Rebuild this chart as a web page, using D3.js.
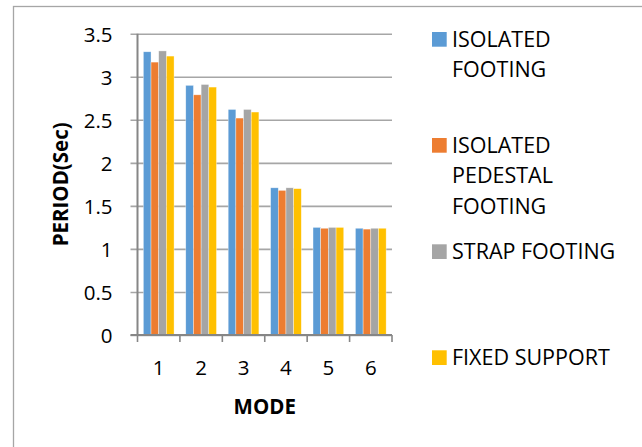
<!DOCTYPE html>
<html>
<head>
<meta charset="utf-8">
<script src="https://cdn.jsdelivr.net/npm/d3@7"></script>
<style>
  html, body { margin: 0; padding: 0; background: #fff; }
  svg { display: block; font-family: "Open Sans", "DejaVu Sans", sans-serif; }
</style>
</head>
<body>
<svg id="chart" width="642" height="447"></svg>
<script>
const modes = ["1", "2", "3", "4", "5", "6"];
const seriesNames = ["ISOLATED FOOTING", "ISOLATED PEDESTAL FOOTING", "STRAP FOOTING", "FIXED SUPPORT"];
const legendLines = [["ISOLATED", "FOOTING"], ["ISOLATED", "PEDESTAL", "FOOTING"], ["STRAP FOOTING"], ["FIXED SUPPORT"]];
const isolatedFooting   = [3.29, 2.90, 2.62, 1.71, 1.25, 1.24];
const isolatedPedestal  = [3.17, 2.79, 2.52, 1.68, 1.24, 1.23];
const strapFooting      = [3.30, 2.91, 2.62, 1.71, 1.25, 1.24];
const fixedSupport      = [3.24, 2.88, 2.59, 1.70, 1.25, 1.24];
const yTicks = [0, 0.5, 1, 1.5, 2, 2.5, 3, 3.5];
const yTickLabels = ["0", "0.5", "1", "1.5", "2", "2.5", "3", "3.5"];
const colors = ["#5B9BD5", "#ED7D31", "#A5A5A5", "#FFC000"];
const yTitle = "PERIOD(Sec)";
const xTitle = "MODE";

const seriesValues = [isolatedFooting, isolatedPedestal, strapFooting, fixedSupport];

const svg = d3.select("#chart");

// outer chart border
svg.append("rect")
  .attr("x", 13.5).attr("y", 6.5)
  .attr("width", 700).attr("height", 500)
  .attr("fill", "none").attr("stroke", "#a6a6a6").attr("stroke-width", 1.3);

const plotLeft = 137.5, plotRight = 392, plotTop = 33.7, plotBottom = 335;

const x = d3.scaleBand().domain(modes).range([plotLeft, plotRight])
  .paddingInner(0.276).paddingOuter(0.138);
const xs = d3.scaleBand().domain(d3.range(seriesNames.length)).range([0, x.bandwidth()]);
const y = d3.scaleLinear().domain([0, 3.5]).range([plotBottom, plotTop]);

// gridlines with left tick marks
const yAxis = d3.axisLeft(y).tickValues(yTicks)
  .tickSize(-(plotRight - plotLeft))
  .tickFormat((d, i) => yTickLabels[i]);
const gy = svg.append("g").attr("transform", `translate(${plotLeft},0)`).call(yAxis);
gy.select(".domain").remove();
gy.selectAll(".tick line").attr("stroke", "#a6a6a6").attr("stroke-width", 1.6)
  .attr("x1", -7);
gy.selectAll(".tick text").attr("x", -25).attr("dy", "0.36em")
  .attr("font-size", 20.5).attr("fill", "#000")
  .attr("font-family", "'Open Sans', sans-serif");

// bars
const groups = svg.append("g").selectAll("g").data(modes).join("g")
  .attr("transform", d => `translate(${x(d)},0)`);
groups.selectAll("rect")
  .data((m, i) => seriesValues.map((vals, s) => ({ s, v: vals[i] })))
  .join("rect")
  .attr("x", d => xs(d.s))
  .attr("width", xs.bandwidth())
  .attr("y", d => y(d.v))
  .attr("height", d => y(0) - y(d.v))
  .attr("fill", d => colors[d.s])
  .attr("stroke", "#fff").attr("stroke-opacity", 0.6).attr("stroke-width", 0.6);

// y axis line
svg.append("line").attr("x1", plotLeft).attr("x2", plotLeft)
  .attr("y1", plotTop).attr("y2", plotBottom)
  .attr("stroke", "#868686").attr("stroke-width", 2);

// x axis
const xAxis = d3.axisBottom(x).tickSize(0).tickSizeOuter(0);
const gx = svg.append("g").attr("transform", `translate(0,${plotBottom})`).call(xAxis);
gx.select(".domain").remove();
gx.selectAll(".tick text").attr("y", 0).attr("dy", 40)
  .attr("font-size", 20.5).attr("fill", "#000")
  .attr("font-family", "'Open Sans', sans-serif");
svg.append("line").attr("x1", plotLeft - 7).attr("x2", plotRight)
  .attr("y1", plotBottom).attr("y2", plotBottom)
  .attr("stroke", "#868686").attr("stroke-width", 2);
// category boundary ticks
const step = x.step();
const boundaries = d3.range(modes.length + 1).map(i => plotLeft + i * step);
svg.append("g").selectAll("line").data(boundaries).join("line")
  .attr("x1", d => d).attr("x2", d => d)
  .attr("y1", plotBottom).attr("y2", plotBottom + 7)
  .attr("stroke", "#868686").attr("stroke-width", 1.6);

// axis titles
svg.append("text")
  .attr("transform", `translate(68,${(plotTop + plotBottom) / 2}) rotate(-90)`)
  .attr("text-anchor", "middle")
  .attr("font-size", 20.5).attr("font-weight", "bold").attr("fill", "#000")
  .text(yTitle);
svg.append("text")
  .attr("x", (plotLeft + plotRight) / 2).attr("y", 414)
  .attr("text-anchor", "middle")
  .attr("font-size", 20.5).attr("font-weight", "bold").attr("fill", "#000")
  .text(xTitle);

// legend
const legendBaselines = [46.7, 152.7, 259, 365];
const leg = svg.append("g").selectAll("g").data(seriesNames).join("g");
leg.append("rect")
  .attr("x", 432).attr("width", 14.7)
  .attr("y", (d, i) => legendBaselines[i] - 14.7).attr("height", 14.7)
  .attr("fill", (d, i) => colors[i]);
leg.each(function (d, i) {
  const g = d3.select(this);
  legendLines[i].forEach((line, j) => {
    g.append("text")
      .attr("x", 452).attr("y", legendBaselines[i] + j * 30.7)
      .attr("font-size", 21.5).attr("fill", "#000")
      .text(line);
  });
});
</script>
</body>
</html>
